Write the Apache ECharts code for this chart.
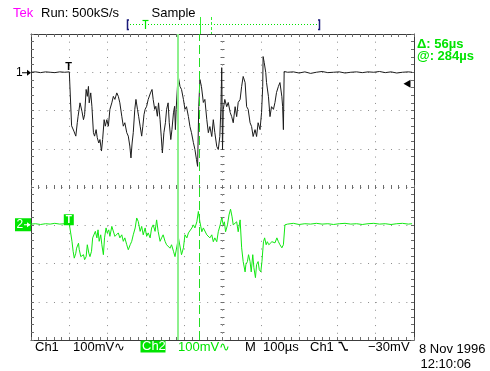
<!DOCTYPE html>
<html>
<head>
<meta charset="utf-8">
<script src="https://cdn.jsdelivr.net/npm/echarts@6/dist/echarts.min.js"></script>
<style>
html, body { margin: 0; padding: 0; background: #fff; }
#scope { width: 490px; height: 371px; }
</style>
</head>
<body>
<div id="scope"></div>
<script>
// time in µs from the left edge of the screen (100 µs/div),
// level in mV relative to the channel ground (100 mV/div)
const ch1Samples = [
  [0,0],[12,1],[25,-1],[38,1],[50,0],[62,-1],[75,1],[88,0],[100,1],[104,0],
  [106,-140],[110,-141],[112,-154],[117,-167],[121,-131],[123,-115],[128,-80],[130,-76],[133,-102],[137,-124],
  [140,-111],[144,-45],[147,-63],[150,-37],[152,-80],[156,-54],[159,-89],[163,-158],[166,-167],[170,-150],
  [173,-171],[177,-185],[180,-176],[184,-206],[187,-176],[191,-124],[194,-141],[198,-124],[202,-141],[206,-97],
  [211,-80],[215,-63],[219,-71],[224,-54],[228,-63],[232,-80],[237,-115],[241,-141],[245,-132],[250,-158],
  [254,-167],[258,-193],[261,-224],[264,-185],[267,-158],[271,-97],[274,-71],[278,-97],[281,-115],[285,-141],
  [289,-167],[292,-141],[295,-111],[298,-97],[302,-89],[306,-71],[309,-76],[312,-54],[316,-45],[319,-71],
  [323,-97],[326,-89],[330,-115],[333,-80],[337,-124],[340,-167],[343,-211],[347,-158],[351,-132],[354,-97],
  [358,-80],[361,-132],[365,-176],[368,-150],[372,-106],[375,-89],[377,-150],[379,-97],[382,-45],[384,-10],
  [386,-19],[389,-37],[393,-45],[398,-71],[402,-97],[406,-90],[411,-116],[415,-142],[419,-158],[424,-184],
  [428,-202],[432,-228],[435,-246],[438,-90],[441,-19],[445,-37],[450,-79],[454,-71],[459,-124],[463,-158],
  [467,-142],[472,-168],[476,-124],[480,-158],[485,-194],[489,-202],[493,-168],[496,-90],[498,12],[500,-202],
  [502,-97],[506,-71],[511,-90],[515,-79],[520,-105],[524,-116],[528,-132],[533,-90],[537,-116],[541,-79],
  [546,-71],[550,-37],[554,-11],[559,-27],[563,-90],[567,-97],[572,-132],[576,-142],[580,-168],[585,-150],
  [589,-168],[593,-132],[598,-150],[602,-105],[605,-37],[606,41],[609,25],[613,-1],[615,-27],[620,-64],
  [624,-116],[628,-90],[633,-97],[637,-79],[641,-53],[646,-37],[650,-27],[655,-64],[657,-90],[659,-150],
  [661,2],[670,0],[685,1],[700,-2],[715,1],[730,-3],[745,0],[760,2],[775,-1],[790,0],[805,1],[820,-2],
  [835,0],[850,1],[865,-1],[880,1],[895,0],[910,2],[925,-1],[940,1],[955,-2],[970,0],[985,1],[995,0]
];
const ch2Samples = [
  [0,3],[12,4],[25,2],[38,4],[50,3],[62,5],[75,3],[88,4],[100,3],[104,3],
  [107,-42],[110,-68],[113,-86],[117,-73],[119,-60],[124,-47],[126,-64],[130,-82],[133,-86],[137,-77],
  [140,-90],[144,-82],[147,-51],[151,-73],[154,-82],[158,-68],[161,-33],[165,-29],[168,-16],[172,-33],
  [175,-12],[178,-42],[182,-25],[185,-51],[189,-77],[192,-33],[196,-7],[199,-20],[203,-12],[206,-29],
  [211,-3],[215,-7],[219,-29],[224,-25],[228,-20],[232,-33],[237,-25],[241,-42],[245,-33],[250,-51],
  [254,-64],[259,-51],[263,-42],[267,-25],[272,-7],[276,19],[280,10],[285,-16],[289,-3],[293,-25],
  [298,-7],[302,-29],[306,-20],[311,-33],[315,-7],[319,1],[324,-16],[328,14],[332,-16],[337,-42],
  [341,-33],[345,-25],[350,-42],[354,-51],[359,-47],[363,-60],[367,-51],[372,-68],[376,-82],[380,-86],
  [385,-33],[389,-33],[393,-77],[398,-59],[402,-25],[407,-33],[411,-20],[415,-25],[420,-7],[424,1],
  [428,-7],[433,9],[437,36],[441,9],[446,-17],[450,-7],[454,-4],[459,-25],[463,-20],[467,-33],
  [472,-25],[476,-43],[480,-33],[485,-43],[489,-17],[494,1],[498,20],[502,1],[505,9],[508,-17],
  [513,1],[517,27],[521,42],[525,22],[528,1],[533,-4],[537,9],[541,-17],[546,14],[550,-59],
  [554,-95],[559,-122],[561,-103],[565,-95],[568,-77],[572,-95],[575,-122],[579,-77],[582,-111],[586,-137],
  [589,-103],[593,-95],[596,-116],[600,-122],[603,-95],[607,-43],[610,-33],[614,-51],[617,-43],[621,-51],
  [624,-46],[629,-43],[633,-38],[637,-46],[642,-33],[646,-43],[650,-51],[655,-59],[659,-51],[663,1],
  [670,3],[685,5],[700,2],[715,4],[730,3],[745,5],[760,3],[775,4],[790,2],[805,4],[820,5],[835,3],
  [850,4],[865,2],[880,4],[895,5],[910,3],[925,4],[940,2],[955,4],[970,5],[985,3],[995,4]
];
const ch1Ground = 300;    // +3 div on screen
const ch2Ground = -100;   // -1 div on screen
const triggerTime = 100;  // µs
const triggerLevel = -30; // mV
const cursorTimes = [384, 440];

const FONT = '"Liberation Sans", Arial, sans-serif';
const GREEN = '#00e400';
const dots = { color: '#8c8c8c', width: 1, type: [1, 6.66] };
const tickStyle = { color: '#6c6c6c', width: 1 };

function axis(pos, range, opts) {
  return Object.assign({
    type: 'value', position: pos, min: -range, max: range, interval: 100,
    axisLine: { show: true, onZero: false, lineStyle: { color: '#3c3c3c', width: 1 } },
    axisTick: { show: true, inside: true, length: 3, lineStyle: tickStyle },
    minorTick: { show: true, splitNumber: 5, length: 3, lineStyle: tickStyle },
    axisLabel: { show: false },
    splitLine: { show: false }
  }, opts || {});
}
function crossAxis(pos, range, offset, inside) {
  return axis(pos, range, {
    offset: offset,
    axisLine: { show: false, onZero: false },
    axisTick: { show: true, inside: inside, length: 2, lineStyle: tickStyle },
    minorTick: { show: true, splitNumber: 5, length: 2, lineStyle: tickStyle }
  });
}

const xAxes = [
  axis('bottom', 0, { min: 0, max: 1000, splitLine: { show: true, lineStyle: dots } }),
  axis('top', 0, { min: 0, max: 1000 }),
  Object.assign(crossAxis('bottom', 0, -153, true), { min: 0, max: 1000 }),
  Object.assign(crossAxis('bottom', 0, -153, false), { min: 0, max: 1000 })
];
const yAxes = [
  axis('left', 400, { splitLine: { show: true, lineStyle: dots } }),
  axis('right', 400),
  crossAxis('left', 400, -191.5, true),
  crossAxis('left', 400, -191.5, false)
];

const option = {
  animation: false,
  backgroundColor: '#fff',
  grid: { left: 31, top: 34, width: 383, height: 306, outerBoundsMode: 'none' },
  xAxis: xAxes,
  yAxis: yAxes,
  series: [
    {
      name: 'cursors', type: 'line', data: [], z: 1, silent: true,
      markLine: {
        silent: true, symbol: 'none', label: { show: false }, animation: false,
        data: [
          { xAxis: cursorTimes[0], lineStyle: { color: '#8ef08e', width: 2, type: 'solid' } },
          { xAxis: cursorTimes[1], lineStyle: { color: '#22dd22', width: 1, type: [9, 4] } }
        ]
      }
    },
    {
      name: 'Ch1', type: 'line', z: 3, showSymbol: false, silent: true,
      data: ch1Samples.map(p => [p[0], p[1] + ch1Ground]),
      lineStyle: { color: '#1c1c1c', width: 1 },
      markPoint: {
        silent: true, symbol: 'triangle', symbolSize: [8, 7], symbolRotate: 90, symbolOffset: [-7, 0],
        itemStyle: { color: '#000' }, label: { show: false },
        data: [{ coord: [1000, ch1Ground + triggerLevel] }]
      }
    },
    {
      name: 'Ch2', type: 'line', z: 3, showSymbol: false, silent: true,
      data: ch2Samples.map(p => [p[0], p[1] + ch2Ground]),
      lineStyle: { color: '#12e812', width: 1 }
    }
  ]
};

const chart = echarts.init(document.getElementById('scope'));
chart.setOption(option);

function txt(x, y, text, fill, font) {
  return {
    type: 'text', x: x, y: y, silent: true, z: 10,
    style: { text: text, fill: fill, font: font || ('13px ' + FONT),
      textAlign: 'left', textVerticalAlign: 'middle', align: 'left', verticalAlign: 'middle' }
  };
}
function line(pts, stroke, width, dash) {
  return { type: 'polyline', silent: true, z: 10, shape: { points: pts },
    style: { stroke: stroke, lineWidth: width || 1, lineDash: dash || null, fill: null } };
}

const g1 = chart.convertToPixel({ seriesIndex: 1 }, [0, ch1Ground]);
const g2 = chart.convertToPixel({ seriesIndex: 2 }, [0, ch2Ground]);
const t1 = chart.convertToPixel({ seriesIndex: 1 }, [triggerTime, ch1Ground]);
const t2 = chart.convertToPixel({ seriesIndex: 2 }, [triggerTime, ch2Ground]);

const graphics = [
  // header
  txt(13, 13, 'Tek', '#ff00ff'),
  txt(41, 13, 'Run: 500kS/s', '#000'),
  txt(151.5, 13, 'Sample', '#000'),
  // record view bar
  line([[129, 20], [127.5, 20], [127.5, 29.5], [129, 29.5]], '#1a1a7a', 1.5),
  line([[318, 20], [319.5, 20], [319.5, 29.5], [318, 29.5]], '#1a1a7a', 1.5),
  line([[130, 24.5], [317, 24.5]], GREEN, 1, [1, 2]),
  line([[142.5, 20.5], [148.5, 20.5]], GREEN, 1.2),
  line([[145.5, 20.5], [145.5, 29]], GREEN, 1.2),
  line([[200.5, 17], [200.5, 34]], '#33ee33', 1),
  line([[211.5, 17], [211.5, 34]], '#33ee33', 1, [3, 2]),
  // cursor readout
  txt(417, 44, 'Δ: ' + (cursorTimes[1] - cursorTimes[0]) + 'µs', GREEN, 'bold 13px ' + FONT),
  txt(417, 56, '@: ' + (cursorTimes[0] - triggerTime) + 'µs', GREEN, 'bold 13px ' + FONT),
  // ground markers
  txt(g1[0] - 15, g1[1], '1', '#000', '12px ' + FONT),
  line([[g1[0] - 9, g1[1] + 0.5], [g1[0] - 1, g1[1] + 0.5]], '#000', 1),
  { type: 'polygon', silent: true, z: 10, shape: { points: [[g1[0] - 4, g1[1] - 2.5], [g1[0], g1[1] + 0.5], [g1[0] - 4, g1[1] + 3.5]] }, style: { fill: '#000' } },
  { type: 'rect', silent: true, z: 10, shape: { x: g2[0] - 16, y: g2[1] - 7, width: 16, height: 13 }, style: { fill: GREEN } },
  txt(g2[0] - 14.5, g2[1] - 0.5, '2', '#fff', '12px ' + FONT),
  line([[g2[0] - 7, g2[1] - 0.5], [g2[0] - 1, g2[1] - 0.5]], '#fff', 1),
  { type: 'polygon', silent: true, z: 10, shape: { points: [[g2[0] - 4, g2[1] - 3], [g2[0] - 0.5, g2[1] - 0.5], [g2[0] - 4, g2[1] + 2]] }, style: { fill: '#fff' } },
  // trigger markers
  txt(t1[0] - 4, t1[1] - 5, 'T', '#000', 'bold 11px ' + FONT),
  { type: 'rect', silent: true, z: 10, shape: { x: t2[0] - 5.5, y: t2[1] - 11, width: 10, height: 11 }, style: { fill: GREEN } },
  txt(t2[0] - 3.5, t2[1] - 5, 'T', '#fff', 'bold 10px ' + FONT),
  // footer
  txt(35, 347, 'Ch1', '#000'),
  txt(73, 347, '100mV∿', '#000'),
  { type: 'rect', silent: true, z: 10, shape: { x: 140.5, y: 340.5, width: 25, height: 12 }, style: { fill: GREEN } },
  txt(142, 346.5, 'Ch2', '#fff'),
  txt(178, 347, '100mV∿', GREEN),
  txt(245, 347, 'M', '#000'),
  txt(263, 347, '100µs', '#000'),
  txt(310, 347, 'Ch1', '#000'),
  line([[338.5, 342.5], [341.5, 342.5], [345, 350], [348, 350]], '#000', 1.3),
  txt(368, 347, String(triggerLevel).replace('-', '−') + 'mV', '#000'),
  txt(419, 349.5, '8 Nov 1996', '#000'),
  txt(420.5, 364, '12:10:06', '#000')
];
chart.setOption({ graphic: graphics });
</script>
</body>
</html>
